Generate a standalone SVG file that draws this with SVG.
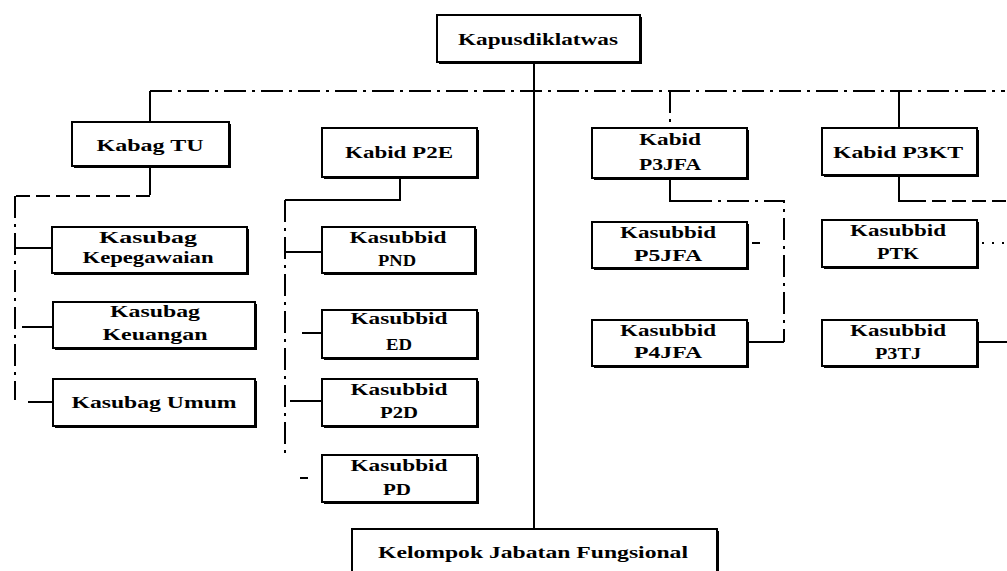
<svg xmlns="http://www.w3.org/2000/svg" width="1007" height="571" viewBox="0 0 1007 571">
<style>
.sh{fill:#000}
.bx{fill:#fff;stroke:#000;stroke-width:2}
.t{font-family:"Liberation Serif","Times New Roman",serif;font-weight:bold;font-size:16px;fill:#000;text-anchor:middle}
.ln{stroke:#000;stroke-width:2;fill:none}
.dd{stroke-dasharray:22 6 3 6}
.ds{stroke-dasharray:14 6}
.dt{stroke-dasharray:2 8}
</style>
<rect width="1007" height="571" fill="#fff"/>
<g id="connectors">
<path class="ln" d="M534 62V529"/>
<path class="ln dd" d="M150 91H1005"/>
<path class="ln" d="M150 91V122M150 166V195"/>
<path class="ln ds" d="M150 196H15"/>
<path class="ln dd" d="M15 196V400"/>
<path class="ln" d="M15 248H52M22 327H53M28 402H53"/>
<path class="ln" d="M400 177V200H285"/>
<path class="ln dd" d="M285 200V455"/>
<path class="ln" d="M285 252H322M302 333H322M290 401H322M300 478H308"/>
<path class="ln dd" d="M670 91V128"/>
<path class="ln" d="M670 180V201H690"/>
<path class="ln dd" d="M690 201H784V342"/>
<path class="ln" d="M747 342H784M752 243H760"/>
<path class="ln" d="M899 91V128M899 175V201H912"/>
<path class="ln ds" d="M912 201H1007"/>
<path class="ln dt" d="M982 243H1007"/>
<path class="ln" d="M977 342H1007"/>
</g>
<g id="n-kapus"><rect class="sh" x="439" y="17" width="203" height="47"/><rect class="bx" x="437" y="15" width="203" height="47"/><text class="t" x="538" y="45" font-size="17" textLength="160" lengthAdjust="spacingAndGlyphs">Kapusdiklatwas</text></g>
<g id="n-kabag"><rect class="sh" x="74" y="124" width="157" height="44"/><rect class="bx" x="72" y="122" width="157" height="44"/><text class="t" x="150" y="151" font-size="17" textLength="107" lengthAdjust="spacingAndGlyphs">Kabag TU</text></g>
<g id="n-kepeg"><rect class="sh" x="54" y="229" width="195" height="46"/><rect class="bx" x="52" y="227" width="195" height="46"/><text class="t" x="148" y="243" textLength="98" lengthAdjust="spacingAndGlyphs">Kasubag</text><text class="t" x="148" y="263" textLength="131" lengthAdjust="spacingAndGlyphs">Kepegawaian</text></g>
<g id="n-keu"><rect class="sh" x="55" y="304" width="202" height="46"/><rect class="bx" x="53" y="302" width="202" height="46"/><text class="t" x="155" y="317" textLength="90" lengthAdjust="spacingAndGlyphs">Kasubag</text><text class="t" x="155" y="340" textLength="105" lengthAdjust="spacingAndGlyphs">Keuangan</text></g>
<g id="n-umum"><rect class="sh" x="55" y="381" width="202" height="47"/><rect class="bx" x="53" y="379" width="202" height="47"/><text class="t" x="154" y="408" font-size="17" textLength="165" lengthAdjust="spacingAndGlyphs">Kasubag Umum</text></g>
<g id="n-p2e"><rect class="sh" x="324" y="130" width="155" height="49"/><rect class="bx" x="322" y="128" width="155" height="49"/><text class="t" x="399" y="158" font-size="17" textLength="108" lengthAdjust="spacingAndGlyphs">Kabid P2E</text></g>
<g id="n-pnd"><rect class="sh" x="324" y="229" width="153" height="46"/><rect class="bx" x="322" y="227" width="153" height="46"/><text class="t" x="398" y="243" textLength="97" lengthAdjust="spacingAndGlyphs">Kasubbid</text><text class="t" x="397" y="266" textLength="38" lengthAdjust="spacingAndGlyphs">PND</text></g>
<g id="n-ed"><rect class="sh" x="324" y="312" width="155" height="48"/><rect class="bx" x="322" y="310" width="155" height="48"/><text class="t" x="399" y="324" textLength="97" lengthAdjust="spacingAndGlyphs">Kasubbid</text><text class="t" x="399" y="350" textLength="26" lengthAdjust="spacingAndGlyphs">ED</text></g>
<g id="n-p2d"><rect class="sh" x="324" y="381" width="155" height="47"/><rect class="bx" x="322" y="379" width="155" height="47"/><text class="t" x="399" y="395" textLength="97" lengthAdjust="spacingAndGlyphs">Kasubbid</text><text class="t" x="399" y="418" textLength="38" lengthAdjust="spacingAndGlyphs">P2D</text></g>
<g id="n-pd"><rect class="sh" x="324" y="457" width="155" height="47"/><rect class="bx" x="322" y="455" width="155" height="47"/><text class="t" x="399" y="471" textLength="97" lengthAdjust="spacingAndGlyphs">Kasubbid</text><text class="t" x="397" y="495" textLength="28" lengthAdjust="spacingAndGlyphs">PD</text></g>
<g id="n-kelompok"><rect class="sh" x="354" y="531" width="365" height="60"/><rect class="bx" x="352" y="529" width="365" height="60"/><text class="t" x="533" y="558" font-size="17" textLength="310" lengthAdjust="spacingAndGlyphs">Kelompok Jabatan Fungsional</text></g>
<g id="n-p3jfa"><rect class="sh" x="594" y="130" width="155" height="50"/><rect class="bx" x="592" y="128" width="155" height="50"/><text class="t" x="670" y="145" textLength="62" lengthAdjust="spacingAndGlyphs">Kabid</text><text class="t" x="670" y="170" textLength="62" lengthAdjust="spacingAndGlyphs">P3JFA</text></g>
<g id="n-p5jfa"><rect class="sh" x="594" y="224" width="155" height="46"/><rect class="bx" x="592" y="222" width="155" height="46"/><text class="t" x="668" y="238" textLength="96" lengthAdjust="spacingAndGlyphs">Kasubbid</text><text class="t" x="668" y="261" textLength="68" lengthAdjust="spacingAndGlyphs">P5JFA</text></g>
<g id="n-p4jfa"><rect class="sh" x="594" y="322" width="155" height="46"/><rect class="bx" x="592" y="320" width="155" height="46"/><text class="t" x="668" y="336" textLength="96" lengthAdjust="spacingAndGlyphs">Kasubbid</text><text class="t" x="668" y="358" textLength="68" lengthAdjust="spacingAndGlyphs">P4JFA</text></g>
<g id="n-p3kt"><rect class="sh" x="824" y="130" width="155" height="47"/><rect class="bx" x="822" y="128" width="155" height="47"/><text class="t" x="898" y="158" font-size="17" textLength="130" lengthAdjust="spacingAndGlyphs">Kabid P3KT</text></g>
<g id="n-ptk"><rect class="sh" x="824" y="222" width="155" height="47"/><rect class="bx" x="822" y="220" width="155" height="47"/><text class="t" x="898" y="236" textLength="96" lengthAdjust="spacingAndGlyphs">Kasubbid</text><text class="t" x="898" y="259" textLength="42" lengthAdjust="spacingAndGlyphs">PTK</text></g>
<g id="n-p3tj"><rect class="sh" x="824" y="322" width="155" height="46"/><rect class="bx" x="822" y="320" width="155" height="46"/><text class="t" x="898" y="336" textLength="96" lengthAdjust="spacingAndGlyphs">Kasubbid</text><text class="t" x="898" y="359" textLength="46" lengthAdjust="spacingAndGlyphs">P3TJ</text></g>
</svg>
